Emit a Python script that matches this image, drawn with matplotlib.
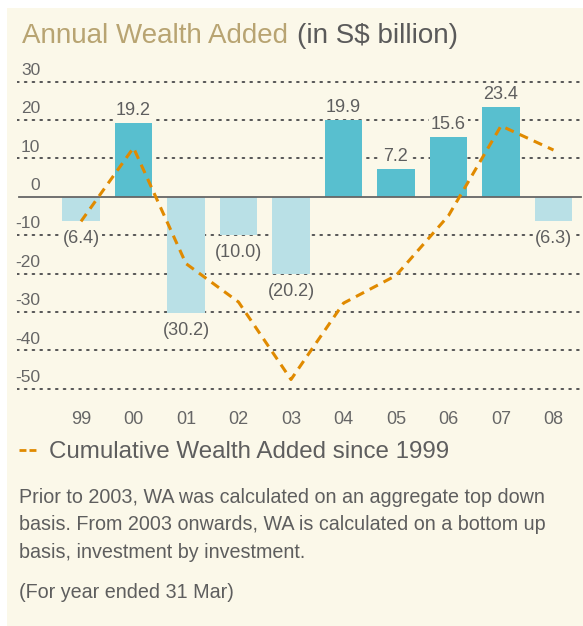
import matplotlib
matplotlib.use("Agg")
import matplotlib.pyplot as plt
from matplotlib.patches import Rectangle
from matplotlib.lines import Line2D

plt.rcParams['font.family'] = ['Liberation Sans', 'DejaVu Sans']

years = ['99', '00', '01', '02', '03', '04', '05', '06', '07', '08']
wealth_added = [-6.4, 19.2, -30.2, -10.0, -20.2, 19.9, 7.2, 15.6, 23.4, -6.3]
cumulative = [-6.4, 12.8, -17.4, -27.4, -47.6, -27.7, -20.5, -4.9, 18.5, 12.2]
yticks = [30, 20, 10, 0, -10, -20, -30, -40, -50]

bg = '#fbf8e9'
pos_col = '#58bfcf'
neg_col = '#b9e0e6'
line_col = '#e08a00'
text_col = '#5e5e5e'

W, H = 583, 626
fig = plt.figure(figsize=(W / 100, H / 100), dpi=100)
fig.patch.set_facecolor('white')
fig.patches.append(Rectangle((7 / W, 0), 1, (H - 8) / H, transform=fig.transFigure,
                             facecolor=bg, edgecolor='none', zorder=-10))

# axes: x pixel 17..583, y pixel 66..401
ax = fig.add_axes([17 / W, (H - 401) / H, (583 - 17) / W, (401 - 66) / H])
ax.set_facecolor('none')
ax.set_xlim(-1.219, 9.562)
ax.set_ylim(-53.2, 34.1)
for s in ax.spines.values():
    s.set_visible(False)
ax.set_yticks([])

xs = list(range(len(years)))
ax.set_xticks(xs, years)
ax.tick_params(axis='x', length=0, pad=7, labelsize=13, labelcolor='#666666')

for v in yticks:
    if v == 0:
        ax.axhline(0, xmin=0.004, xmax=0.996, color='#666666', lw=1.3, zorder=3)
    else:
        ax.axhline(v, color='#555555', lw=1.4, ls=(0, (0.9, 3.1)),
                   dash_capstyle='round', zorder=1)
    ax.text(0.041, v + 1.0, str(v), transform=ax.get_yaxis_transform(),
            ha='right', va='bottom', fontsize=12.5, color='#666666')

cols = [pos_col if v >= 0 else neg_col for v in wealth_added]
ax.bar(xs, wealth_added, width=0.705, color=cols, zorder=2)

lbl_box = dict(facecolor=bg, edgecolor='none', pad=1.5)
for x, v in zip(xs, wealth_added):
    if v >= 0:
        ax.annotate(f'{v:.1f}', (x, v), xytext=(0, 3), textcoords='offset points',
                    ha='center', va='bottom', fontsize=13, color=text_col,
                    bbox=lbl_box, zorder=5)
    else:
        ax.annotate(f'({-v:.1f})', (x, v), xytext=(0, -6.5), textcoords='offset points',
                    ha='center', va='top', fontsize=13, color=text_col,
                    bbox=lbl_box, zorder=5)

ax.plot(xs, cumulative, color=line_col, lw=2.2, ls=(0, (3, 2.1)), zorder=4)

# title in two colours
t1 = fig.text(22 / W, (H - 43) / H, 'Annual Wealth Added', fontsize=20,
              color='#b8a472', va='baseline')
fig.canvas.draw()
bb = t1.get_window_extent()
fig.text((bb.x1 + 9) / W, (H - 43) / H, '(in S$ billion)', fontsize=20,
         color='#5a5a5a', va='baseline')

# legend
fig.lines.append(Line2D([19 / W, 36 / W], [(H - 450) / H, (H - 450) / H],
                        transform=fig.transFigure, color=line_col, lw=2,
                        ls=(0, (2.5, 1.1))))
fig.text(49 / W, (H - 458) / H, 'Cumulative Wealth Added since 1999', fontsize=17.4,
         color=text_col, va='baseline')

notes = ['Prior to 2003, WA was calculated on an aggregate top down',
         'basis. From 2003 onwards, WA is calculated on a bottom up',
         'basis, investment by investment.']
for i, line in enumerate(notes):
    fig.text(19 / W, (H - 503 - 27.5 * i) / H, line, fontsize=14.2,
             color=text_col, va='baseline')
fig.text(19 / W, (H - 598) / H, '(For year ended 31 Mar)', fontsize=14.2,
         color=text_col, va='baseline')

fig.savefig('out.png', dpi=100, facecolor='white')
